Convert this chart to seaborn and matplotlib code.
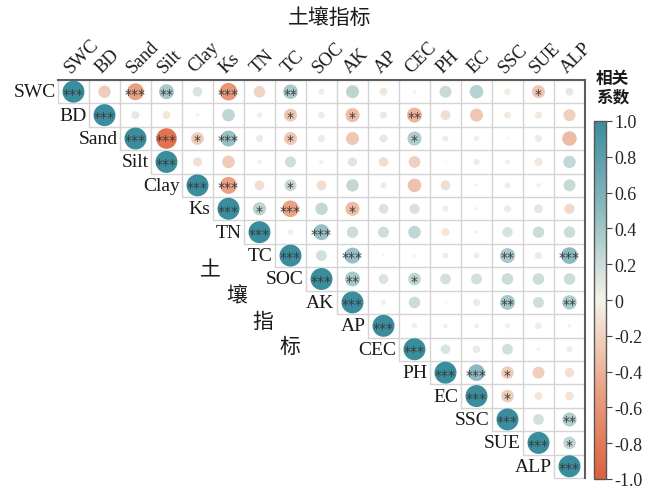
import numpy as np
import pandas as pd
import matplotlib
matplotlib.use("Agg")
import matplotlib.pyplot as plt
import seaborn as sns
from matplotlib.colors import LinearSegmentedColormap, Normalize
from matplotlib.cm import ScalarMappable

# ---------------- data ----------------
variables = ["SWC", "BD", "Sand", "Silt", "Clay", "Ks", "TN", "TC", "SOC",
             "AK", "AP", "CEC", "PH", "EC", "SSC", "SUE", "ALP"]

# upper-triangle correlations (row i, columns i+1 .. end)
r_SWC  = [-0.24, -0.52, 0.38, 0.13, -0.58, -0.20, 0.36, -0.04, 0.27, -0.08, 0.01, 0.22, 0.30, -0.05, -0.27, 0.08]
r_BD   = [0.08, -0.08, 0.01, 0.25, 0.03, -0.27, -0.05, -0.33, 0.06, -0.38, -0.14, -0.27, -0.06, -0.06, -0.22]
r_Sand = [-0.85, -0.25, 0.45, 0.06, -0.27, 0.06, -0.27, 0.08, 0.33, 0.04, -0.03, 0.005, 0.06, -0.35]
r_Silt = [-0.11, -0.25, 0.02, 0.18, -0.02, 0.11, -0.13, -0.21, 0.003, 0.04, -0.02, -0.08, 0.24]
r_Clay = [-0.52, -0.13, 0.22, -0.14, 0.24, 0.04, -0.30, -0.13, 0.01, 0.04, -0.02, 0.22]
r_Ks   = [0.28, -0.50, 0.24, -0.33, 0.13, 0.15, -0.04, 0.01, -0.06, 0.10, -0.15]
r_TN   = [-0.03, 0.45, 0.20, 0.18, 0.25, -0.08, 0.01, 0.15, 0.20, 0.20]
r_TC   = [0.17, 0.45, 0.005, 0.01, 0.04, 0.04, 0.38, 0.06, 0.50]
r_SOC  = [0.38, 0.13, 0.25, 0.17, 0.17, 0.20, 0.20, 0.20]
r_AK   = [0.03, 0.20, 0.003, 0.06, 0.38, 0.18, 0.35]
r_AP   = [-0.03, 0.02, 0.02, 0.03, 0.05, 0.01]
r_CEC  = [0.13, 0.07, 0.17, 0.01, 0.04]
r_PH   = [0.50, -0.25, -0.22, -0.12]
r_EC   = [-0.25, -0.08, -0.10]
r_SSC  = [0.17, 0.33]
r_SUE  = [0.25]
r_rows = [r_SWC, r_BD, r_Sand, r_Silt, r_Clay, r_Ks, r_TN, r_TC, r_SOC,
          r_AK, r_AP, r_CEC, r_PH, r_EC, r_SSC, r_SUE, []]

# significance marks (same layout)
s_SWC  = ["", "***", "**", "", "***", "", "**", "", "", "", "", "", "", "", "*", ""]
s_BD   = ["", "", "", "", "", "*", "", "*", "", "**", "", "", "", "", ""]
s_Sand = ["***", "*", "***", "", "*", "", "", "", "*", "", "", "", "", ""]
s_Silt = [""] * 13
s_Clay = ["***", "", "*", "", "", "", "", "", "", "", "", ""]
s_Ks   = ["*", "***", "", "*", "", "", "", "", "", "", ""]
s_TN   = ["", "***", "", "", "", "", "", "", "", ""]
s_TC   = ["", "***", "", "", "", "", "**", "", "***"]
s_SOC  = ["**", "", "*", "", "", "", "", ""]
s_AK   = ["", "", "", "", "**", "", "**"]
s_AP   = [""] * 6
s_CEC  = [""] * 5
s_PH   = ["***", "*", "", ""]
s_EC   = ["*", "", ""]
s_SSC  = ["", "**"]
s_SUE  = ["*"]
s_rows = [s_SWC, s_BD, s_Sand, s_Silt, s_Clay, s_Ks, s_TN, s_TC, s_SOC,
          s_AK, s_AP, s_CEC, s_PH, s_EC, s_SSC, s_SUE, []]

cbar_ticks = [1.0, 0.8, 0.6, 0.4, 0.2, 0.0, -0.2, -0.4, -0.6, -0.8, -1.0]
cbar_labels = ["1.0", "0.8", "0.6", "0.4", "0.2", "0", "-0.2", "-0.4", "-0.6", "-0.8", "-1.0"]

# ---------------- table ----------------
recs = []
n = len(variables)
for i in range(n):
    recs.append(dict(row=i, col=i, r=1.0, star="***"))
    for k, (rv, sv) in enumerate(zip(r_rows[i], s_rows[i])):
        recs.append(dict(row=i, col=i + 1 + k, r=rv, star=sv))
df = pd.DataFrame(recs)
df["x"] = df["col"] + 0.5
df["y"] = df["row"] + 0.5
df["mag"] = np.abs(df["r"]) ** 0.8

# ---------------- style ----------------
sns.set_style("white")
plt.rcParams["font.family"] = ["Liberation Serif", "Noto Sans CJK SC", "DejaVu Sans"]
cjk = ["Noto Sans CJK SC", "DejaVu Sans"]

cmap = LinearSegmentedColormap.from_list(
    "corr", ["#DE5F3C", "#E9A284", "#F5F3EA", "#8DBAC0", "#3A8D9D"])

W, H = 662, 489
fig = plt.figure(figsize=(W / 100, H / 100), dpi=100)
ax = fig.add_axes([58 / W, 10 / H, 527 / W, 398 / H])

sns.scatterplot(data=df, x="x", y="y", hue="r", palette=cmap, hue_norm=(-1, 1),
                size="mag", sizes=(0, 250), size_norm=(0, 1), legend=False,
                linewidth=0, ax=ax, zorder=3)

ax.set_xlim(0, n)
ax.set_ylim(n, 0)
ax.axis("off")

# grid of the upper triangle
gc = "#D4D4D4"
for k in range(n + 1):
    x0 = max(k - 1, 0)
    ax.plot([x0, n], [k, k], color=gc, lw=1.0, zorder=1, clip_on=False)
    if k < n:
        ax.plot([k, k], [0, k + 1], color=gc, lw=1.0, zorder=1, clip_on=False)
ax.plot([0, n], [0, 0], color="#5E5E5E", lw=1.5, zorder=6, clip_on=False,
        solid_capstyle="projecting")
ax.plot([n, n], [0, n], color="#5E5E5E", lw=1.5, zorder=6, clip_on=False,
        solid_capstyle="projecting")

# stars
for _, rw in df.iterrows():
    if rw["star"]:
        ax.text(rw["x"], rw["y"] + 0.08, rw["star"], ha="center", va="center",
                fontsize=10, color="#3A3A3A", family="DejaVu Sans", zorder=5)

# row labels along the diagonal
for i, v in enumerate(variables):
    ax.text(i - 0.08, i + 0.5, v, ha="right", va="center", fontsize=14,
            color="#1A1A1A", clip_on=False)
# column labels
for j, v in enumerate(variables):
    ax.text(j + 0.4, -0.32, v, ha="left", va="baseline", rotation=45,
            rotation_mode="anchor", fontsize=13.5, color="#1A1A1A", clip_on=False)

# Chinese axis texts
fig.text(330 / W, 1 - 18 / H, "土壤指标", ha="center", va="center",
         fontsize=15, family=cjk, color="#1A1A1A")
for ch, (px, py) in zip("土壤指标", [(210, 270), (237, 296), (263, 322), (290, 347)]):
    fig.text(px / W, 1 - py / H, ch, ha="center", va="center",
             fontsize=15, family=cjk, color="#1A1A1A")

# colorbar
cax = fig.add_axes([594 / W, 9 / H, 12 / W, 358 / H])
sm = ScalarMappable(norm=Normalize(-1, 1), cmap=cmap)
cb = fig.colorbar(sm, cax=cax, ticks=cbar_ticks)
cb.ax.set_yticklabels(cbar_labels)
cb.ax.tick_params(labelsize=13, length=4, width=0.8, color="#444444", pad=2)
cb.outline.set_edgecolor("#555555")
cb.outline.set_linewidth(1.0)
fig.text(596 / W, 1 - 88 / H, "相关\n系数", ha="left", va="center",
         fontsize=12, weight="bold", family=cjk, linespacing=1.05, color="#1A1A1A")

fig.savefig("out.png", dpi=100)
